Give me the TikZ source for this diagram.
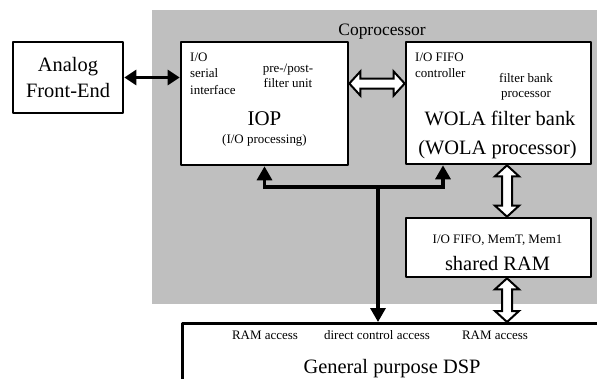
\documentclass[tikz,border=0pt]{standalone}
\usepackage{fontspec}
\setmainfont{Liberation Serif}
\usetikzlibrary{arrows.meta,calc}
\tikzset{
	box/.style={draw,line width=2.6bp,fill=white,inner sep=0pt},
	small/.style={font=\fontsize{13}{15}\selectfont,inner sep=0pt},
	big/.style={font=\fontsize{20.5}{26}\selectfont,inner sep=0pt},
	bus/.style={line width=3.2bp,line join=miter},
	hollow/.style={draw=black,fill=white,line width=2bp,line join=miter},
	tip/.style={-{Triangle[length=14bp,width=15bp]}}
}
% fat double arrow with white body between two points
\newcommand{\twoway}[2]{%
	\filldraw[hollow] (#1) -- ($(#1)!11bp!(#2)!12bp!90:(#2)$) -- ($(#1)!11bp!(#2)!5bp!90:(#2)$)
	-- ($(#2)!11bp!(#1)!5bp!-90:(#1)$) -- ($(#2)!11bp!(#1)!12bp!-90:(#1)$) -- (#2)
	-- ($(#2)!11bp!(#1)!12bp!90:(#1)$) -- ($(#2)!11bp!(#1)!5bp!90:(#1)$)
	-- ($(#1)!11bp!(#2)!5bp!-90:(#2)$) -- ($(#1)!11bp!(#2)!12bp!-90:(#2)$) -- cycle;}
\begin{document}
\begin{tikzpicture}[x=1bp,y=1bp,line join=round]
	\clip (0,0) rectangle (597,378);
	\fill[black!25] (152,74) rectangle (610,368);
	\node[font=\fontsize{17.5}{20}\selectfont,inner sep=0pt,anchor=base] (cop) at (382,343) {Coprocessor};
	% boxes
	\node[box,big,align=center,minimum width=110bp,minimum height=71bp] (afe) at (68,300.5) {Analog\\Front-End};
	\node[box,minimum width=167bp,minimum height=123bp] (iop) at (264.5,274.5) {};
	\node[box,minimum width=185bp,minimum height=122bp] (wola) at (498.5,275) {};
	\node[box,minimum width=185bp,minimum height=59bp] (ram) at (498.5,130.5) {};
	\node[box,minimum width=460bp,minimum height=100bp,anchor=north west] (dsp) at (181,56) {};
	% labels
	\foreach \n/\x/\y/\a/\t in {ioa/190/317/base west/{I/O}, iob/190/300.3/base west/serial,
		ioc/190/283.7/base west/interface, pfa/288/306/base/{pre-/post-}, pfb/288/291/base/filter unit,
		iod/264.5/235/base/{(I/O processing)}, ffa/415/317/base west/{I/O FIFO}, ffb/415/300.5/base west/controller,
		fba/526/296/base/filter bank, fbb/526/281/base/processor, mem/497.5/135/base/{I/O FIFO, MemT, Mem1},
		rda/265/39/base/RAM access, dca/377/39/base/direct control access, rdb/495/39/base/RAM access}
	\node[small,anchor=\a] (\n) at (\x,\y) {\t};
	\node[big,font=\fontsize{21}{26}\selectfont,anchor=base] (ioname) at (264.5,253) {IOP};
	\node[big,anchor=base] (wname) at (500,253) {WOLA filter bank};
	\node[big,anchor=base] (wsub) at (497.5,224) {(WOLA processor)};
	\node[big,anchor=base] (rname) at (497.5,108) {shared RAM};
	\node[big,anchor=base] (dname) at (392,5) {General purpose DSP};
	% connections
	\draw[line width=3.2bp,{Triangle[length=12bp,width=15bp]}-{Triangle[length=12bp,width=15bp]}] (afe.east) -- (afe.east -| iop.west);
	\coordinate (J) at (378,191);
	\draw[bus,tip] (J) -| (iop.south);
	\draw[bus,tip] (J) -| ($(wola.south)+(-55.5,0)$);
	\draw[bus,tip] (J) -- (J |- dsp.north);
	\path ($(iop.east)+(0,20)$) coordinate (h1) ($(wola.south)+(8.5,0)$) coordinate (v1)
		($(ram.south)+(8.5,0)$) coordinate (v2);
	\twoway{h1}{h1 -| wola.west}
	\twoway{v1}{v1 |- ram.north}
	\twoway{v2}{v2 |- dsp.north}
\end{tikzpicture}
\end{document}
